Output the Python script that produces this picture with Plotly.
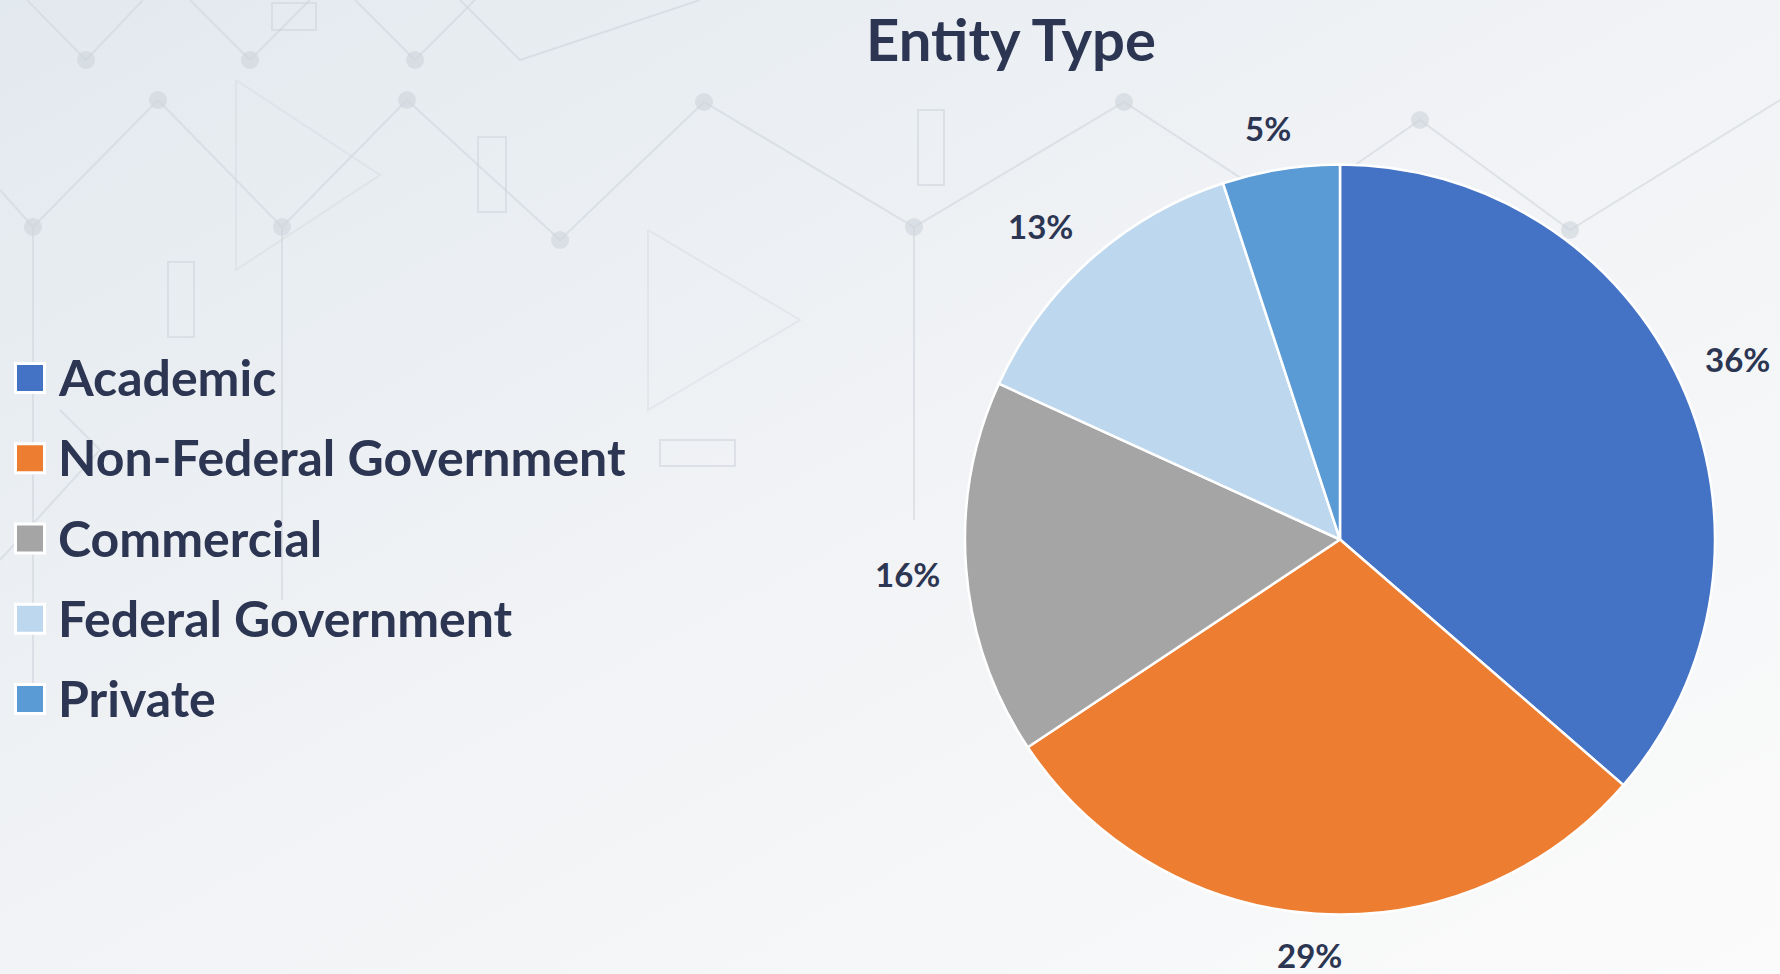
import base64
import math
import plotly.graph_objects as go

# ---------------- data ----------------
categories = ["Academic", "Non-Federal Government", "Commercial", "Federal Government", "Private"]
values = [36, 29, 16, 13, 5]
colors = ["#4472C4", "#ED7D31", "#A5A5A5", "#BDD7EE", "#5B9BD5"]
title_text = "Entity Type"

W, H = 1780, 974
TEXT = "#2C3653"
FONT = "Lato"

# pie geometry (pixels)
CX, CY, R = 1340, 539.5, 375

# ---------------- decorative background (svg) ----------------
zig_b = [(0, 190), (33, 227), (158, 100), (282, 227), (407, 100), (560, 240), (704, 102),
         (914, 227), (1124, 102), (1290, 210), (1420, 120), (1570, 230), (1780, 100)]
zig_a = [(27, 0), (86, 60), (143, 0), (190, 0), (250, 60), (310, 0), (355, 0), (415, 60), (475, 0)]
svg_parts = [
    f'<svg xmlns="http://www.w3.org/2000/svg" width="{W}" height="{H}" viewBox="0 0 {W} {H}">',
    '<defs><linearGradient id="g" x1="0" y1="0" x2="1" y2="1">'
    '<stop offset="0" stop-color="#e2e9ee"/><stop offset="0.45" stop-color="#f0f2f5"/>'
    '<stop offset="1" stop-color="#fbfbfb"/></linearGradient></defs>',
    f'<rect x="0" y="0" width="{W}" height="{H}" fill="url(#g)"/>',
    '<g stroke="#cdd4da" stroke-opacity="0.55" fill="none" stroke-width="2">',
    '<polyline points="' + " ".join(f"{x},{y}" for x, y in zig_b) + '"/>',
]
for i in range(0, len(zig_a), 3):
    pts = zig_a[i:i + 3]
    svg_parts.append('<polyline points="' + " ".join(f"{x},{y}" for x, y in pts) + '"/>')
svg_parts += [
    '<polyline points="0,560 100,450 60,410"/>',
    '<polyline points="460,0 520,60 700,0"/>',
    '<line x1="33" y1="227" x2="33" y2="700"/>',
    '<line x1="282" y1="227" x2="282" y2="600"/>',
    '<line x1="914" y1="227" x2="914" y2="520"/>',
    '<rect x="272" y="3" width="44" height="27"/>',
    '<rect x="478" y="137" width="28" height="75"/>',
    '<rect x="168" y="262" width="26" height="75"/>',
    '<rect x="918" y="110" width="26" height="75"/>',
    '<rect x="660" y="440" width="75" height="26"/>',
    '<polyline points="236,80 236,270 380,175 236,80" stroke-opacity="0.35"/>',
    '<polyline points="648,230 648,410 800,320 648,230" stroke-opacity="0.35"/>',
    '</g>',
    '<g fill="#cdd4da" fill-opacity="0.6">',
]
for x, y in zig_b[1:-1] + [zig_a[1], zig_a[4], zig_a[7]]:
    svg_parts.append(f'<circle cx="{x}" cy="{y}" r="9"/>')
svg_parts += ['</g>', '</svg>']
svg = "".join(svg_parts)
bg_src = "data:image/svg+xml;base64," + base64.b64encode(svg.encode()).decode()

# ---------------- figure ----------------
fig = go.Figure()
fig.add_trace(go.Pie(
    labels=categories,
    values=values,
    sort=False,
    direction="clockwise",
    rotation=0,
    marker=dict(colors=colors, line=dict(color="white", width=2.5)),
    textinfo="none",
    showlegend=False,
    hoverinfo="label+percent",
    domain=dict(x=[(CX - R) / W, (CX + R) / W], y=[(H - CY - R) / H, (H - CY + R) / H]),
))

annotations = []

# percentage labels placed outside each slice, at its mid angle
total = sum(values)
LABEL_SIZE = 33
edge_dist, half_h, k = R + 28, 13.5, 2.5
cum = 0
for v in values:
    mid = (cum + v / 2) / total * 2 * math.pi
    cum += v
    txt = f"{round(v / total * 100)}%"
    half_w = 0.31 * LABEL_SIZE * len(txt)
    sx, cy_ = math.sin(mid), math.cos(mid)
    fx = max(-1.0, min(1.0, k * sx))
    fy = max(-1.0, min(1.0, k * cy_))
    px = CX + edge_dist * sx + half_w * fx
    py = CY - edge_dist * cy_ - half_h * fy
    annotations.append(dict(
        x=px / W, y=1 - py / H, xref="paper", yref="paper",
        xanchor="center", yanchor="middle", showarrow=False,
        text=f"<b>{txt}</b>",
        font=dict(family=FONT, size=LABEL_SIZE, color=TEXT),
    ))

# custom legend: large squares with white rims + labels
row0, step = 378, 80.25
shapes = []
for i, (cat, col) in enumerate(zip(categories, colors)):
    yc = row0 + i * step
    shapes.append(dict(
        type="rect", xref="paper", yref="paper",
        x0=15.5 / W, x1=44.5 / W, y0=1 - (yc + 14.5) / H, y1=1 - (yc - 14.5) / H,
        fillcolor=col, line=dict(color="white", width=3), layer="above",
    ))
    annotations.append(dict(
        x=56 / W, y=1 - (yc - 1) / H, xref="paper", yref="paper",
        xanchor="left", yanchor="middle", showarrow=False,
        text=f"<b>{cat}</b>", font=dict(family=FONT, size=50, color=TEXT),
    ))

fig.update_layout(
    width=W, height=H,
    margin=dict(l=0, r=0, t=0, b=0),
    paper_bgcolor="#f3f5f7",
    plot_bgcolor="rgba(0,0,0,0)",
    title=dict(text=f"<b>{title_text}</b>", x=1011 / W, xanchor="center",
               y=1 - 41 / H, yanchor="middle",
               font=dict(family=FONT, size=58, color=TEXT)),
    shapes=shapes,
    annotations=annotations,
    images=[dict(source=bg_src, xref="paper", yref="paper", x=0, y=1,
                 sizex=1, sizey=1, sizing="stretch", layer="below", xanchor="left", yanchor="top")],
)

fig.write_html(
    "out.html",
    config={"displayModeBar": False},
    post_script="document.body.style.margin='0';document.body.style.overflow='hidden';",
)
